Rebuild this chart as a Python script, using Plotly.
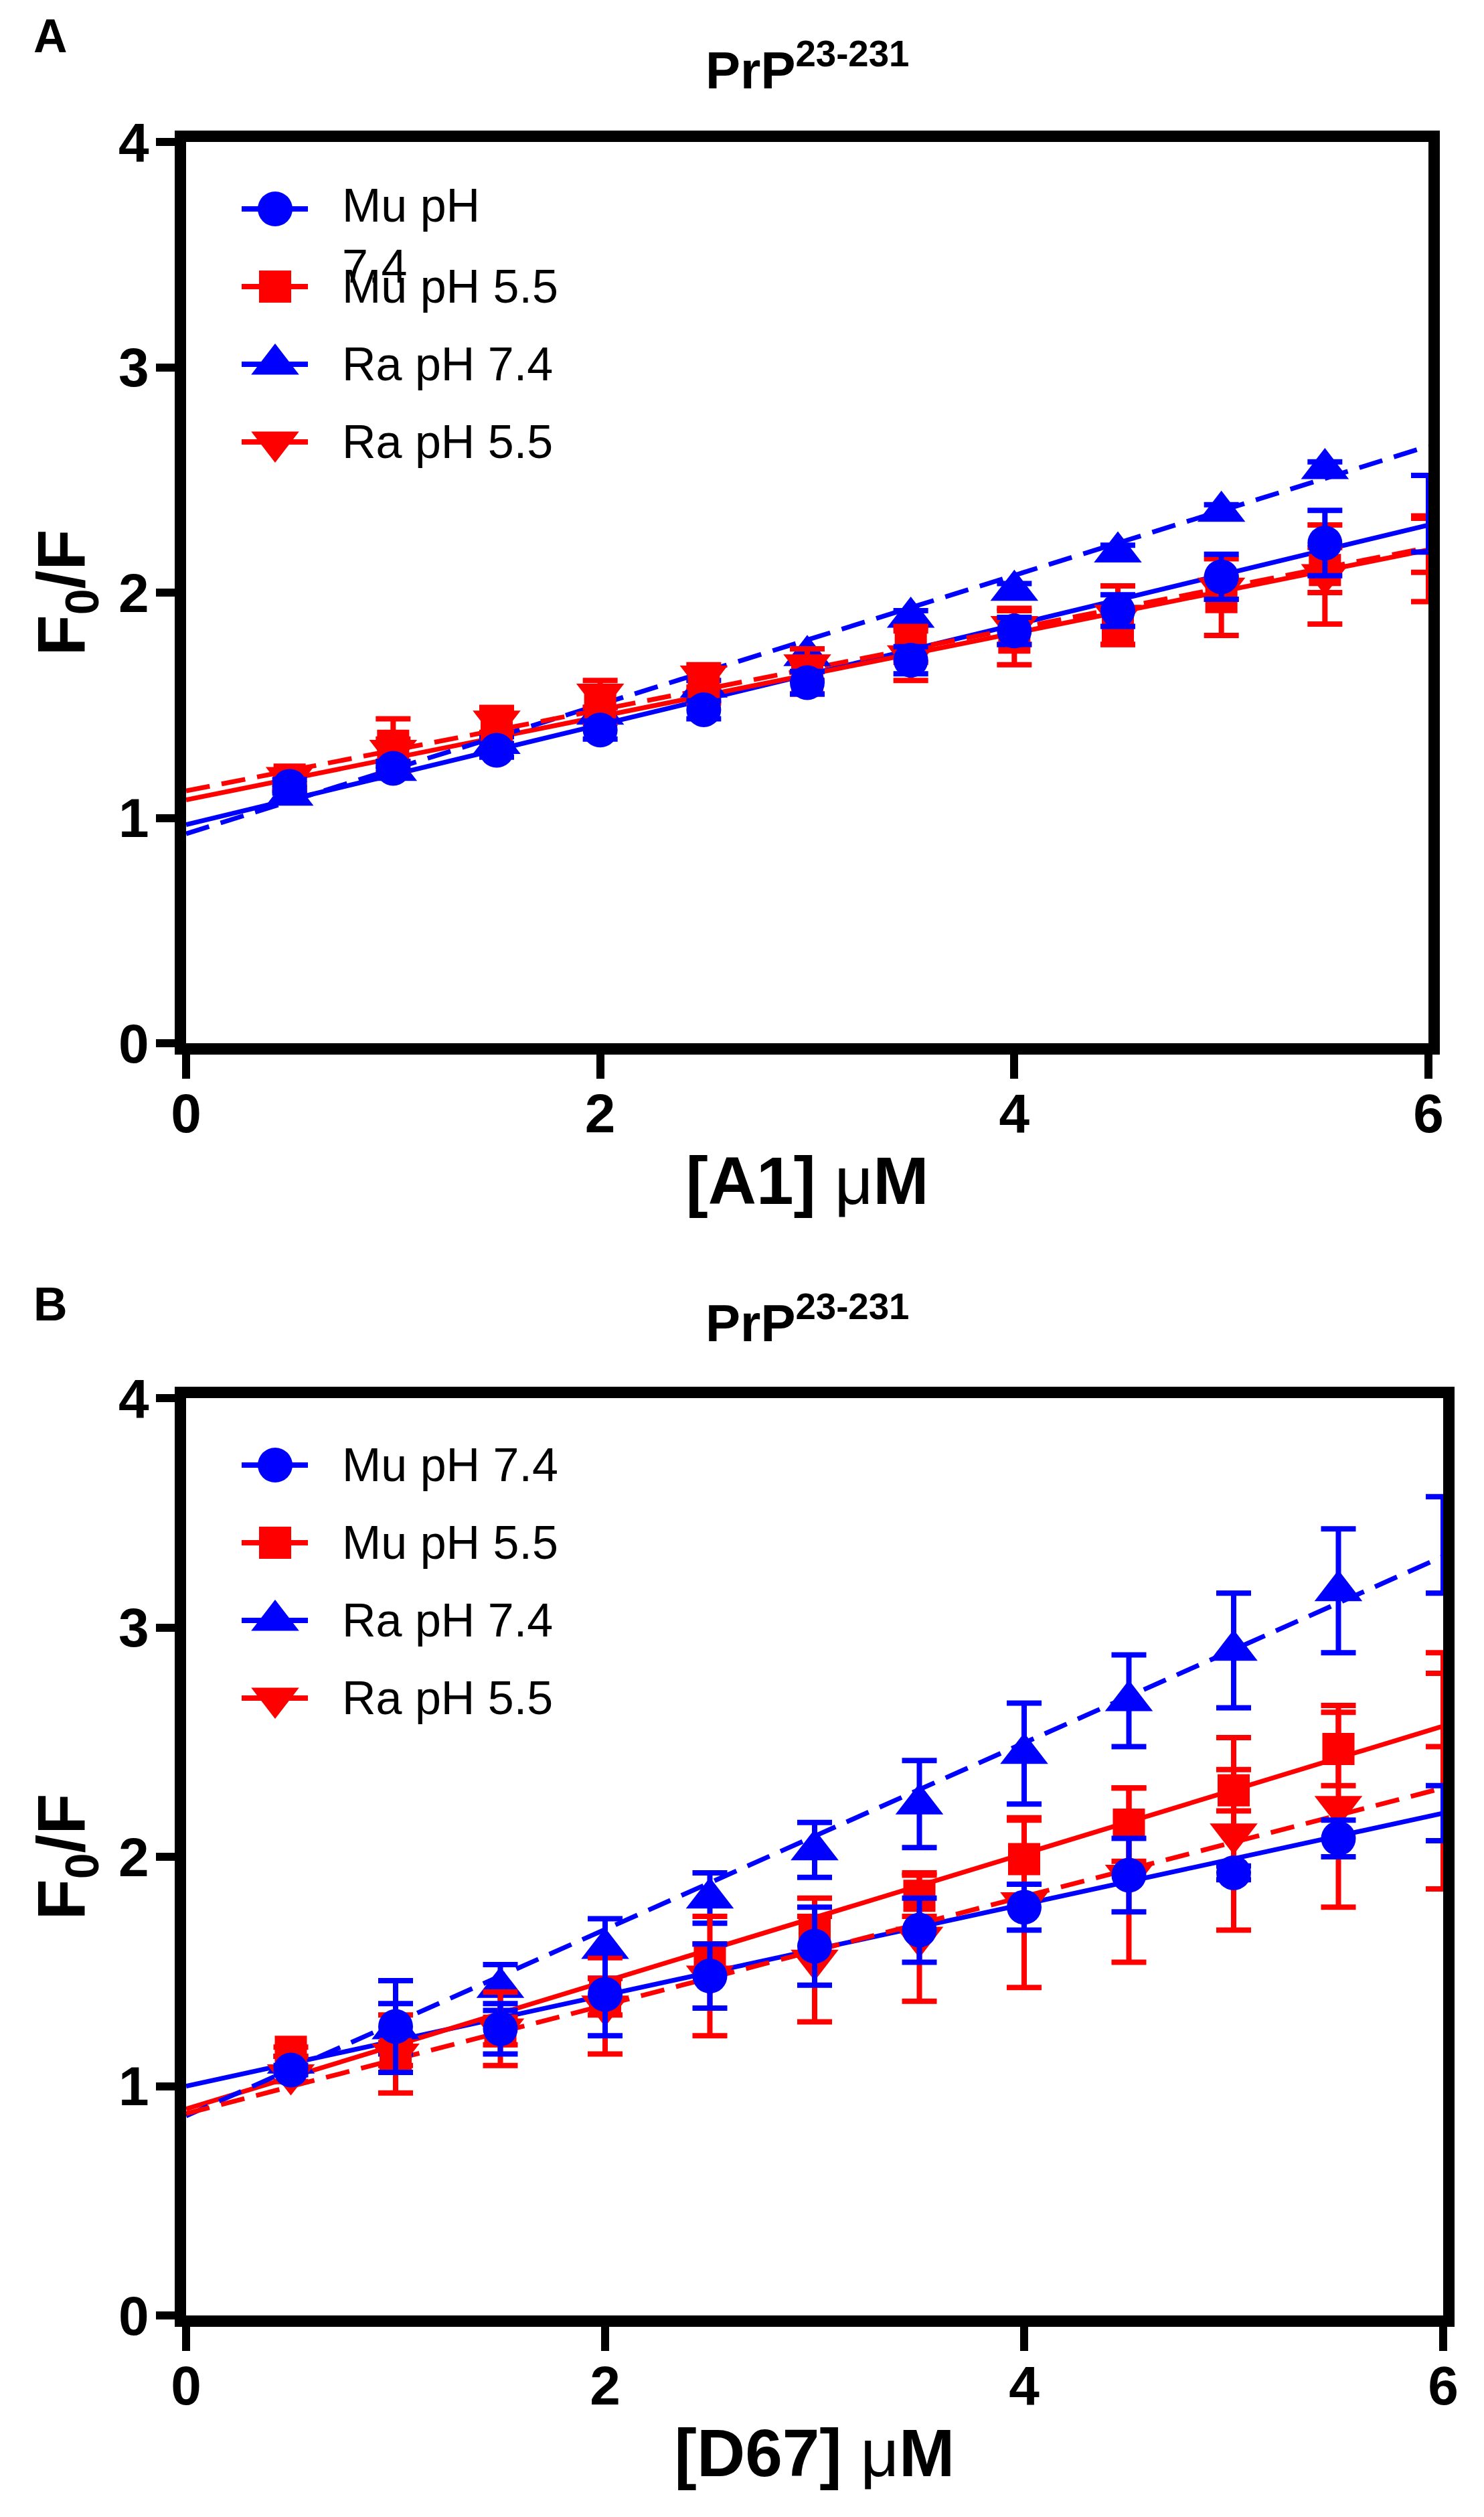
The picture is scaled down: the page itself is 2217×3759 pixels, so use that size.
import plotly.graph_objects as go

# concentration of compound (uM)
conc = [0.5, 1.0, 1.5, 2.0, 2.5, 3.0, 3.5, 4.0, 4.5, 5.0, 5.5, 6.0]
fit_x = [0, 6]

# ---- panel A: [A1] ----
a_mu74 = [1.14, 1.22, 1.30, 1.39, 1.48, 1.60, 1.70, 1.83, 1.92, 2.07, 2.22, 2.35]
a_mu74_err = [0.03, 0.03, 0.03, 0.04, 0.04, 0.05, 0.06, 0.06, 0.07, 0.10, 0.145, 0.17]
a_mu55 = [1.17, 1.32, 1.41, 1.50, 1.58, 1.62, 1.77, 1.80, 1.85, 1.98, 2.10, 2.21]
a_mu55_err = [0.04, 0.12, 0.08, 0.08, 0.07, 0.07, 0.08, 0.12, 0.08, 0.17, 0.10, 0.12]
a_ra74 = [1.10, 1.21, 1.33, 1.46, 1.58, 1.72, 1.89, 2.01, 2.18, 2.36, 2.55, None]
a_ra74_err = [0.02, 0.02, 0.03, 0.03, 0.03, 0.03, 0.03, 0.03, 0.03, 0.03, 0.03, None]
a_ra55 = [1.18, 1.30, 1.43, 1.55, 1.63, 1.68, 1.72, 1.85, 1.90, 2.02, 2.08, 2.15]
a_ra55_err = [0.03, 0.05, 0.05, 0.06, 0.05, 0.07, 0.11, 0.08, 0.13, 0.05, 0.22, 0.19]
# linear fits, value at x = 0 and x = 6
a_mu74_fit = [0.97, 2.30]
a_mu55_fit = [1.08, 2.19]
a_ra74_fit = [0.93, 2.65]
a_ra55_fit = [1.12, 2.20]

# ---- panel B: [D67] ----
b_mu74 = [1.07, 1.26, 1.25, 1.40, 1.48, 1.61, 1.68, 1.78, 1.92, 1.93, 2.08, 2.19]
b_mu74_err = [0.02, 0.20, 0.11, 0.18, 0.14, 0.17, 0.14, 0.10, 0.16, 0.03, 0.08, 0.12]
b_mu55 = [1.15, 1.14, 1.24, 1.39, 1.56, 1.66, 1.83, 1.99, 2.14, 2.29, 2.47, 2.64]
b_mu55_err = [0.02, 0.05, 0.06, 0.08, 0.06, 0.08, 0.09, 0.17, 0.16, 0.09, 0.16, 0.16]
b_ra74 = [1.10, 1.25, 1.43, 1.60, 1.82, 2.03, 2.23, 2.45, 2.68, 2.90, 3.16, 3.36]
b_ra74_err = [0.03, 0.11, 0.10, 0.13, 0.11, 0.12, 0.19, 0.22, 0.20, 0.25, 0.27, 0.21]
b_ra55 = [1.05, 1.14, 1.25, 1.35, 1.48, 1.55, 1.65, 1.80, 1.92, 2.10, 2.22, 2.375]
b_ra55_err = [0.03, 0.17, 0.16, 0.21, 0.26, 0.27, 0.28, 0.37, 0.38, 0.42, 0.44, 0.515]
b_mu74_fit = [1.00, 2.19]
b_mu55_fit = [0.90, 2.57]
b_ra74_fit = [0.87, 3.31]
b_ra55_fit = [0.88, 2.30]

BLUE = "#0000FF"
RED = "#FF0000"
FONT = "Liberation Sans"

style = {
    "Mu pH 7.4": dict(color=BLUE, symbol="circle", size=52, dash="solid"),
    "Mu pH 5.5": dict(color=RED, symbol="square", size=48, dash="solid"),
    "Ra pH 7.4": dict(color=BLUE, symbol="triangle-up", size=62, dash="36px,18px"),
    "Ra pH 5.5": dict(color=RED, symbol="triangle-down", size=62, dash="36px,18px"),
}

panels = [
    dict(letter="A", xlabel="[A1] <span style='font-weight:normal'>μ</span>M",
         xa="x", ya="y", lxa="x3", lya="y3",
         series={"Mu pH 7.4": (a_mu74, a_mu74_err, a_mu74_fit),
                 "Mu pH 5.5": (a_mu55, a_mu55_err, a_mu55_fit),
                 "Ra pH 7.4": (a_ra74, a_ra74_err, a_ra74_fit),
                 "Ra pH 5.5": (a_ra55, a_ra55_err, a_ra55_fit)},
         labels=["Mu pH<br>7.4", "Mu pH 5.5", "Ra pH 7.4", "Ra pH 5.5"]),
    dict(letter="B", xlabel="[D67] <span style='font-weight:normal'>μ</span>M",
         xa="x2", ya="y2", lxa="x4", lya="y4",
         series={"Mu pH 7.4": (b_mu74, b_mu74_err, b_mu74_fit),
                 "Mu pH 5.5": (b_mu55, b_mu55_err, b_mu55_fit),
                 "Ra pH 7.4": (b_ra74, b_ra74_err, b_ra74_fit),
                 "Ra pH 5.5": (b_ra55, b_ra55_err, b_ra55_fit)},
         labels=["Mu pH 7.4", "Mu pH 5.5", "Ra pH 7.4", "Ra pH 5.5"]),
]

W, H = 2217, 3759
ML, MR, MT, MB = 270, 69, 204, 309
PW, PH = W - ML - MR, H - MT - MB
X_MAX = 6

def paper_y(py):
    return (H - MB - py) / PH

# pixel boxes of the two plot frames
box_a = dict(x0=270, x1=2126, y0=204, y1=1550)
box_b = dict(x0=270, x1=2148, y0=2080, y1=3450)
boxes = [box_a, box_b]

fig = go.Figure()

for p in panels:
    # fitted lines under the points
    for name, (vals, errs, fit) in p["series"].items():
        s = style[name]
        fig.add_trace(go.Scatter(
            x=fit_x, y=fit, mode="lines", xaxis=p["xa"], yaxis=p["ya"],
            line=dict(color=s["color"], width=7, dash=s["dash"]),
            showlegend=False, hoverinfo="skip"))
    for name in ["Ra pH 7.4", "Ra pH 5.5", "Mu pH 5.5", "Mu pH 7.4"]:
        vals, errs, fit = p["series"][name]
        s = style[name]
        # points sitting on the right frame are not drawn, only their error bars
        sizes = [0 if x >= X_MAX else s["size"] for x in conc]
        fig.add_trace(go.Scatter(
            x=conc, y=vals, mode="markers", name=name, xaxis=p["xa"], yaxis=p["ya"],
            marker=dict(color=s["color"], symbol=s["symbol"], size=sizes, opacity=1,
                        line=dict(width=0)),
            error_y=dict(type="data", array=errs, color=s["color"], thickness=8, width=26),
            cliponaxis=False, showlegend=False))

    # hand-drawn legend in pixel units of the frame
    for i, (name, label) in enumerate(zip(style.keys(), p["labels"])):
        s = style[name]
        row = 100 + 116 * i
        fig.add_trace(go.Scatter(
            x=[83, 182], y=[row, row], mode="lines", xaxis=p["lxa"], yaxis=p["lya"],
            line=dict(color=s["color"], width=8), showlegend=False, hoverinfo="skip"))
        fig.add_trace(go.Scatter(
            x=[133], y=[row], mode="markers", xaxis=p["lxa"], yaxis=p["lya"],
            marker=dict(color=s["color"], symbol=s["symbol"], size=s["size"]),
            showlegend=False, hoverinfo="skip"))
        wrapped = "<br>" in label
        fig.add_annotation(
            x=231, y=row, xref=p["lxa"], yref=p["lya"], text=label, showarrow=False,
            xanchor="left", yanchor="top" if wrapped else "middle",
            yshift=46 if wrapped else 0, align="left",
            font=dict(family=FONT, size=70, color="black"))

axis_common = dict(
    showline=True, linewidth=17, linecolor="black", mirror=True,
    ticks="outside", tickwidth=12, tickcolor="black",
    showgrid=False, zeroline=False, layer="below traces",
    tickfont=dict(family=FONT, size=82, color="black", weight="bold"),
)

layout = dict(
    width=W, height=H, autosize=False,
    margin=dict(l=ML, r=MR, t=MT, b=MB),
    paper_bgcolor="white", plot_bgcolor="rgba(0,0,0,0)",
    showlegend=False,
)

for k, (p, box) in enumerate(zip(panels, boxes)):
    xn = "xaxis" if k == 0 else "xaxis2"
    yn = "yaxis" if k == 0 else "yaxis2"
    xdom = [(box["x0"] - ML) / PW, (box["x1"] - ML) / PW]
    ydom = [paper_y(box["y1"]), paper_y(box["y0"])]
    layout[xn] = dict(axis_common, domain=xdom, range=[0, 6], tickvals=[0, 2, 4, 6],
                      anchor=p["ya"], ticklen=36, ticklabelstandoff=-18,
                      title=dict(text=p["xlabel"], standoff=28,
                                 font=dict(family=FONT, size=100, color="black", weight="bold")))
    layout[yn] = dict(axis_common, domain=ydom, range=[0, 4], tickvals=[0, 1, 2, 3, 4],
                      anchor=p["xa"], ticklen=28, ticklabelstandoff=-6,
                      title=dict(text="F<sub>0</sub>/F", standoff=24,
                                 font=dict(family=FONT, size=100, color="black", weight="bold")))
    lxn = "xaxis" + p["lxa"][1:]
    lyn = "yaxis" + p["lya"][1:]
    layout[lxn] = dict(domain=xdom, range=[0, box["x1"] - box["x0"]], visible=False,
                       anchor=p["lya"], fixedrange=True)
    layout[lyn] = dict(domain=ydom, range=[box["y1"] - box["y0"], 0], visible=False,
                       anchor=p["lxa"], fixedrange=True)

fig.update_layout(**layout)

# panel letters and titles
for p, box, title_y, letter_y in zip(panels, boxes, [92, 1962], [46, 1940]):
    fig.add_annotation(x=(1198 - ML) / PW, y=paper_y(title_y), xref="paper", yref="paper",
                       text="PrP<sup>23-231</sup>", showarrow=False, yanchor="middle",
                       font=dict(family=FONT, size=78, color="black", weight="bold"))
    fig.add_annotation(x=(40 - ML) / PW, y=paper_y(letter_y), xref="paper", yref="paper",
                       text=p["letter"], showarrow=False, yanchor="middle",
                       font=dict(family=FONT, size=70, color="black", weight="bold"))

fig.write_html("out.html")
